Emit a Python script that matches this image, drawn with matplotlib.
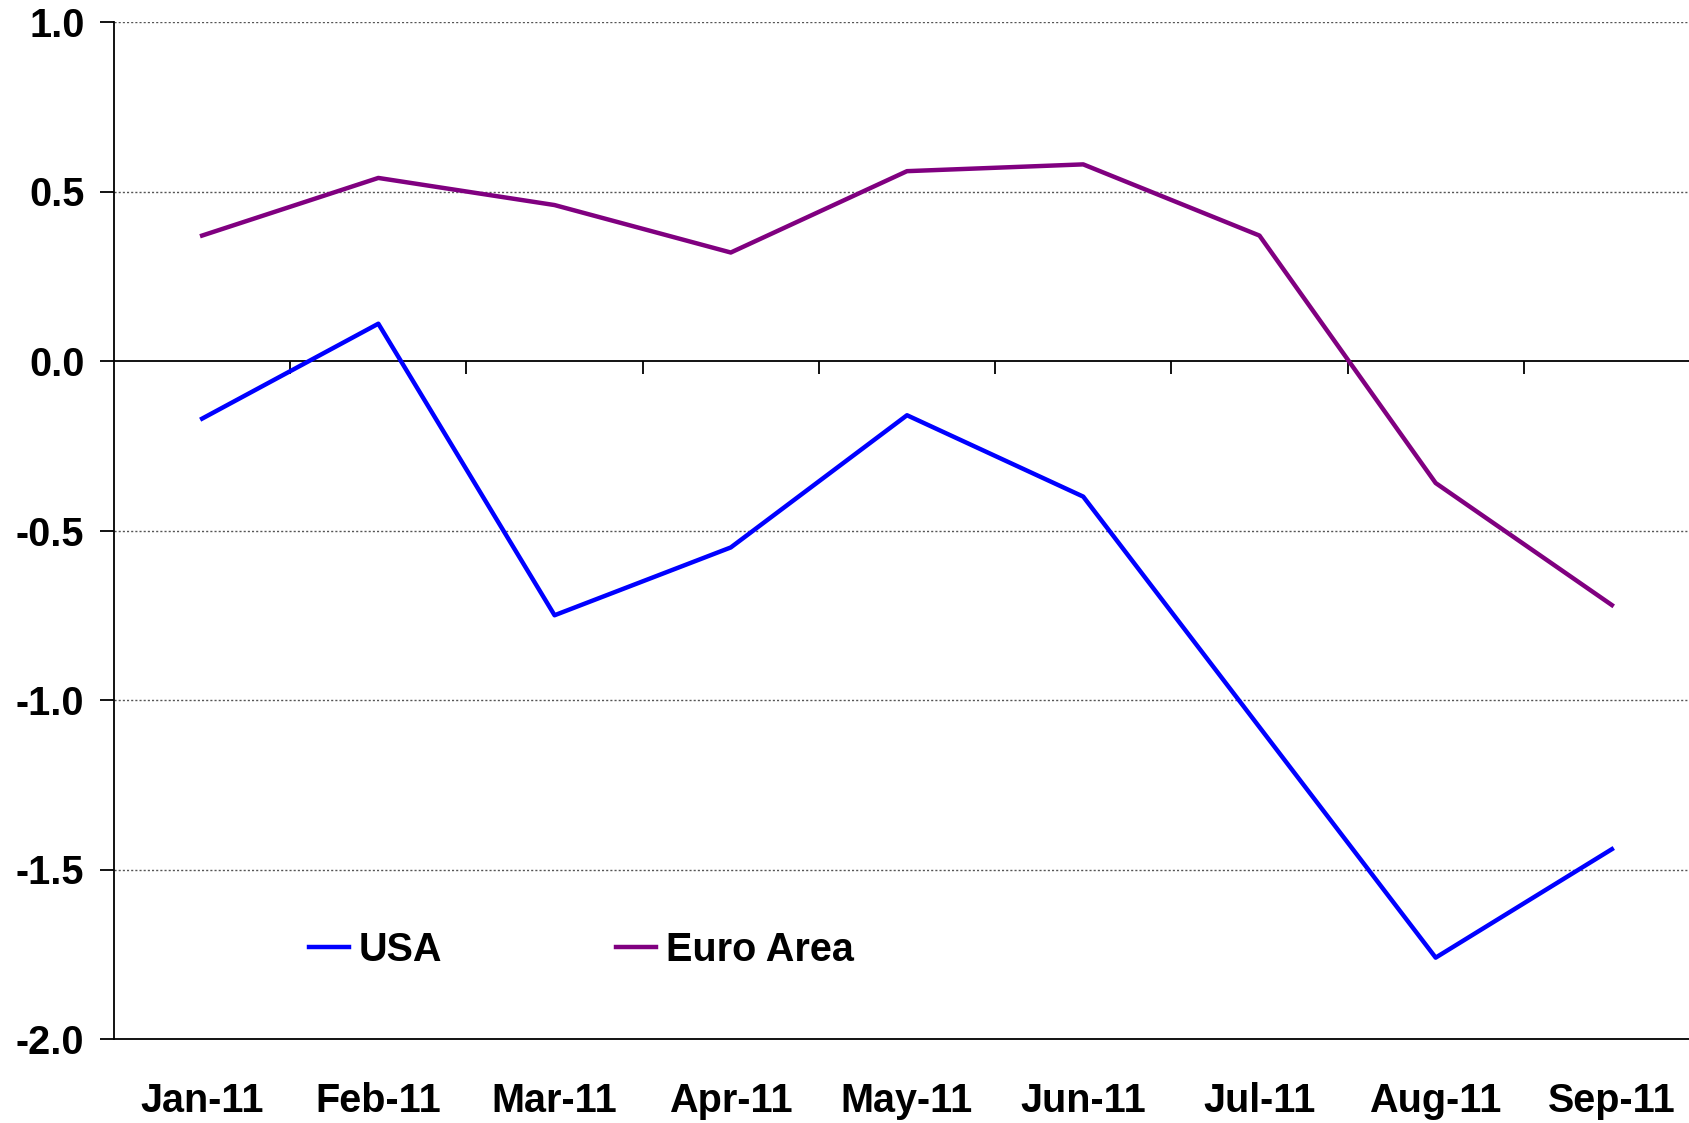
import matplotlib
matplotlib.use("Agg")
import matplotlib.pyplot as plt
import numpy as np

months = ["Jan-11", "Feb-11", "Mar-11", "Apr-11", "May-11", "Jun-11", "Jul-11", "Aug-11", "Sep-11"]
usa = [-0.17, 0.11, -0.75, -0.55, -0.16, -0.40, -1.08, -1.76, -1.44]
euro = [0.37, 0.54, 0.46, 0.32, 0.56, 0.58, 0.37, -0.36, -0.72]
yticks = [-2.0, -1.5, -1.0, -0.5, 0.0, 0.5, 1.0]

plt.rcParams['font.family'] = ['Liberation Sans', 'DejaVu Sans']
plt.rcParams['font.weight'] = 'bold'

FS = 28.5
W, H = 1690, 1123
fig = plt.figure(figsize=(W / 100, H / 100), dpi=100)
left, right, top, bottom = 114, 1700, 22, 1039
ax = fig.add_axes([left / W, 1 - bottom / H, (right - left) / W, (bottom - top) / H])

x = np.arange(len(months))
ax.set_xlim(-0.5, len(months) - 0.5)
ax.set_ylim(-2.0, 1.0)

# gridlines
for v in yticks:
    if v in (0.0, -2.0):
        continue
    ax.axhline(v, color='#555555', lw=1.0, ls=(0, (1.5, 1.5)), zorder=1)
ax.axhline(0.0, color='black', lw=1.3, zorder=2)

# category boundary ticks on zero line
for b in x[:-1] + 0.5:
    ax.plot([b, b], [0.0, -0.038], color='black', lw=1.3, zorder=2, solid_capstyle='butt')

ax.plot(x, usa, color='#0000FF', lw=3.2, label='USA', zorder=3)
ax.plot(x, euro, color='#800080', lw=3.2, label='Euro Area', zorder=3)

ax.spines['top'].set_visible(False)
ax.spines['right'].set_visible(False)
ax.spines['left'].set_linewidth(1.3)
ax.spines['bottom'].set_linewidth(1.3)

ax.set_yticks(yticks)
ax.set_yticklabels([f"{v:.1f}" for v in yticks])
ax.set_xticks(x)
ax.set_xticklabels(months)
ax.tick_params(axis='y', length=10, width=1.3, pad=11.3, labelsize=FS, direction='out')
ax.tick_params(axis='x', length=0, pad=31, labelsize=FS)
for lab in ax.get_xticklabels() + ax.get_yticklabels():
    lab.set_fontweight('bold')

leg = ax.legend(loc='center left', bbox_to_anchor=(309 / W, 1 - 950 / H),
                bbox_transform=fig.transFigure, ncol=2, frameon=False,
                prop={'size': FS, 'weight': 'bold'}, handlelength=1.0,
                handletextpad=0.25, columnspacing=4.4, borderpad=0, borderaxespad=0)

fig.savefig("out.png", dpi=100)
